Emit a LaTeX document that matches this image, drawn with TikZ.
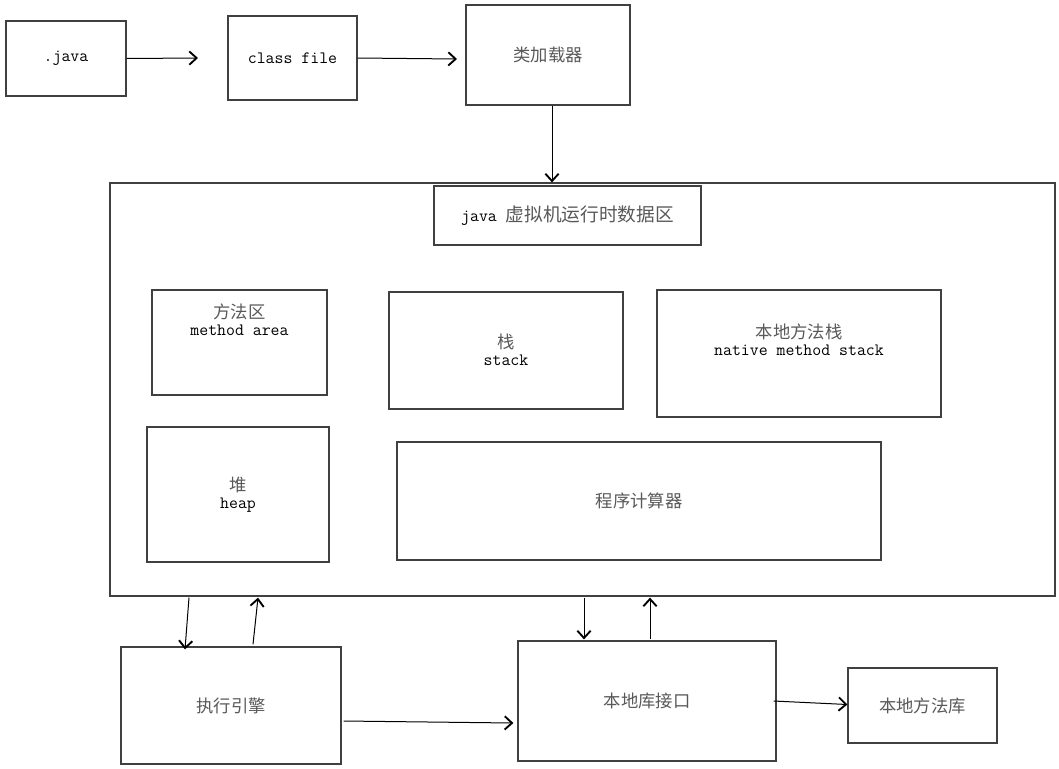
\documentclass[tikz,border=0pt]{standalone}
\usepackage{fontspec}
\newfontfamily\cjk{Noto Sans CJK SC}
\usetikzlibrary{arrows.meta,calc}
\tikzset{
  box/.style={draw=black!75, line width=0.9pt, fill=white, inner sep=0pt, text=black!65, font=\cjk\fontsize{13}{15}\selectfont},
  lbl/.style={align=center, inner sep=0pt, font=\fontsize{12}{12.5}\selectfont},
  arr/.style={draw=black, line width=0.75pt, -{Straight Barb[length=5.5pt,width=10pt,line width=1.4pt]}},
}
\newcommand{\mt}[1]{{\color{black}\ttfamily\fontsize{13}{12}\selectfont #1}}
\newcommand{\cj}[1]{{\color{black!65}\cjk\fontsize{13}{12}\selectfont #1}}
\begin{document}
\begin{tikzpicture}[x=0.75pt,y=-0.75pt]
\useasboundingbox (0,0) rectangle (1059,768);
% top row
\node[box, minimum width=120*0.75pt, minimum height=75*0.75pt] (java) at (66,58.5) {\mt{.java}};
\node[box, minimum width=129*0.75pt, minimum height=84*0.75pt] (cls) at (292.5,58) {\mt{class file}};
\node[box, minimum width=164*0.75pt, minimum height=100*0.75pt] (loader) at (548,55) {类加载器};
% big runtime area
\node[box, minimum width=945*0.75pt, minimum height=413*0.75pt] (big) at (582.5,389.5) {};
\node[box, minimum width=267*0.75pt, minimum height=59*0.75pt] (rt) at (567.5,215.5) {\mt{java\ }{\fontsize{14}{15}\selectfont 虚拟机运行时数据区}};
\node[box, minimum width=175*0.75pt, minimum height=105*0.75pt] (ma) at (239.5,342.5) {};
\node[lbl] (matext) at (239.5,320) {\cj{方法区}\\\mt{method area}};
\node[box, minimum width=234*0.75pt, minimum height=117*0.75pt] (stk) at (506,350.5) {};
\node[lbl] (stktext) at (506,350) {\cj{栈}\\\mt{stack}};
\node[box, minimum width=284*0.75pt, minimum height=127*0.75pt] (nms) at (799,353.5) {};
\node[lbl] (nmstext) at (799,340) {\cj{本地方法栈}\\\mt{native method stack}};
\node[box, minimum width=182*0.75pt, minimum height=135*0.75pt] (heap) at (238,494.5) {};
\node[lbl] (heaptext) at (238,495) {\cj{堆}\\\mt{heap}};
\node[box, minimum width=484*0.75pt, minimum height=118*0.75pt] (pc) at (639,501) {程序计算器};
% bottom row
\node[box, minimum width=220*0.75pt, minimum height=117*0.75pt] (exec) at (231,705.5) {执行引擎};
\node[box, minimum width=258*0.75pt, minimum height=120*0.75pt] (nli) at (647,701) {本地库接口};
\node[box, minimum width=149*0.75pt, minimum height=75*0.75pt] (lib) at (922.5,705.5) {本地方法库};
% free ends
\coordinate (c1) at (198,58);
\coordinate (c2) at (457,59);
% arrows
\draw[arr] (java.east) -- (c1);
\draw[arr] (cls.east) -- (c2);
\draw[arr] ($(loader.south)+(4,0)$) -- ($(big.north)+(-30.5,0)$);
\draw[arr] ($(big.south)+(-393.5,1)$) -- ($(exec.north)+(-46,3)$);
\draw[arr] ($(exec.north)+(22,-2)$) -- ($(big.south)+(-324.5,1)$);
\draw[arr] ($(big.south)+(1.5,1)$) -- ($(nli.north)+(-63,-1)$);
\draw[arr] ($(nli.north)+(3,-1)$) -- ($(big.south)+(67.5,1)$);
\draw[arr] ($(exec.east)+(2,15.5)$) -- ($(nli.west)+(-4,22)$);
\draw[arr] ($(nli.east)+(-3,0)$) -- ($(lib.west)+(0,-1)$);
\end{tikzpicture}
\end{document}
